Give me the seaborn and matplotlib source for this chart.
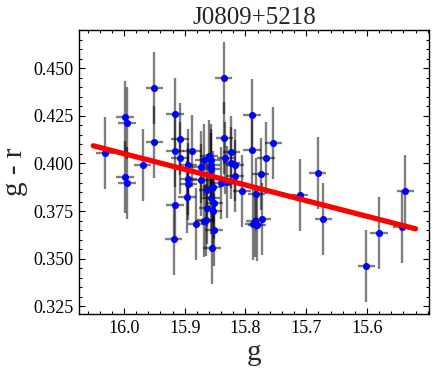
import numpy as np
import pandas as pd
import seaborn as sns
import matplotlib.pyplot as plt
from matplotlib.ticker import MultipleLocator, FixedLocator

# g magnitude and g - r colour for each star
g_mag = [16.032, 15.998, 15.995, 15.998, 15.995, 15.969, 15.950, 15.950, 15.916, 15.916,
         15.908, 15.908, 15.916, 15.918, 15.894, 15.894, 15.894, 15.896, 15.888, 15.881,
         15.874, 15.874, 15.869, 15.869, 15.865, 15.863, 15.863, 15.860, 15.857, 15.857,
         15.857, 15.857, 15.854, 15.851, 15.853, 15.852, 15.855, 15.841, 15.836, 15.835,
         15.833, 15.830, 15.823, 15.823, 15.817, 15.817, 15.806, 15.789, 15.789, 15.754,
         15.766, 15.775, 15.782, 15.773, 15.784, 15.787, 15.781, 15.711, 15.681, 15.672,
         15.601, 15.580, 15.543, 15.537]
g_r = [0.4057, 0.4243, 0.4213, 0.3930, 0.3899, 0.3993, 0.4398, 0.4114, 0.4259, 0.4065,
       0.4128, 0.4028, 0.3780, 0.3601, 0.3991, 0.3921, 0.3892, 0.3824, 0.4063, 0.3682,
       0.3981, 0.3914, 0.4018, 0.3696, 0.3705, 0.3862, 0.3766, 0.4040, 0.4019, 0.3994,
       0.3970, 0.3820, 0.3879, 0.3794, 0.3748, 0.3652, 0.3556, 0.3899, 0.4448, 0.4136,
       0.4031, 0.3905, 0.4061, 0.4003, 0.3993, 0.3935, 0.3857, 0.4254, 0.4070, 0.4105,
       0.4031, 0.3946, 0.3841, 0.3710, 0.3699, 0.3683, 0.3675, 0.3832, 0.3951, 0.3710,
       0.3460, 0.3636, 0.3664, 0.3855]
g_err = [0.0143] * len(g_mag)
gr_err = [0.0189] * len(g_r)

# linear fit
fit_g = [16.0506, 15.520]
fit_gr = [0.4093, 0.3657]

x_ticks = [16.0, 15.9, 15.8, 15.7, 15.6]

df = pd.DataFrame({"g": g_mag, "gr": g_r})
fit = pd.DataFrame({"g": fit_g, "gr": fit_gr})

sns.set_style("ticks")
plt.rcParams["font.family"] = ["Liberation Serif", "DejaVu Serif"]

fig = plt.figure(figsize=(4.36, 3.70), dpi=100)
ax = fig.add_axes([0.1812, 0.1505, 0.8026, 0.7685])

ax.errorbar(g_mag, g_r, xerr=g_err, yerr=gr_err, fmt="none", ecolor="black",
            elinewidth=1.7, alpha=0.5, capsize=0, zorder=1)
sns.scatterplot(data=df, x="g", y="gr", color="#0000ff", s=26, linewidth=0,
                zorder=3, ax=ax)
sns.lineplot(data=fit, x="g", y="gr", color="red", linewidth=3.8, zorder=4, ax=ax)

ax.set_xlim(16.074, 15.498)
ax.set_ylim(0.3208, 0.4701)
ax.xaxis.set_major_locator(FixedLocator(x_ticks))
ax.xaxis.set_minor_locator(MultipleLocator(0.02))
ax.yaxis.set_major_locator(MultipleLocator(0.025))
ax.yaxis.set_minor_locator(MultipleLocator(0.005))
ax.xaxis.set_major_formatter(plt.FormatStrFormatter("%.1f"))
ax.yaxis.set_major_formatter(plt.FormatStrFormatter("%.3f"))

ax.tick_params(which="both", direction="in", top=True, right=True, width=0.8,
               labelsize=13, colors="black", pad=4)
ax.tick_params(which="major", length=4.5)
ax.tick_params(which="minor", length=2.3)
for s in ax.spines.values():
    s.set_linewidth(1.0)
    s.set_color("black")

ax.set_title("J0809+5218", fontsize=18, pad=4)
ax.set_xlabel("g", fontsize=21, labelpad=2)
ax.set_ylabel("g - r", fontsize=21, labelpad=4)

fig.savefig("out.png", dpi=100)
